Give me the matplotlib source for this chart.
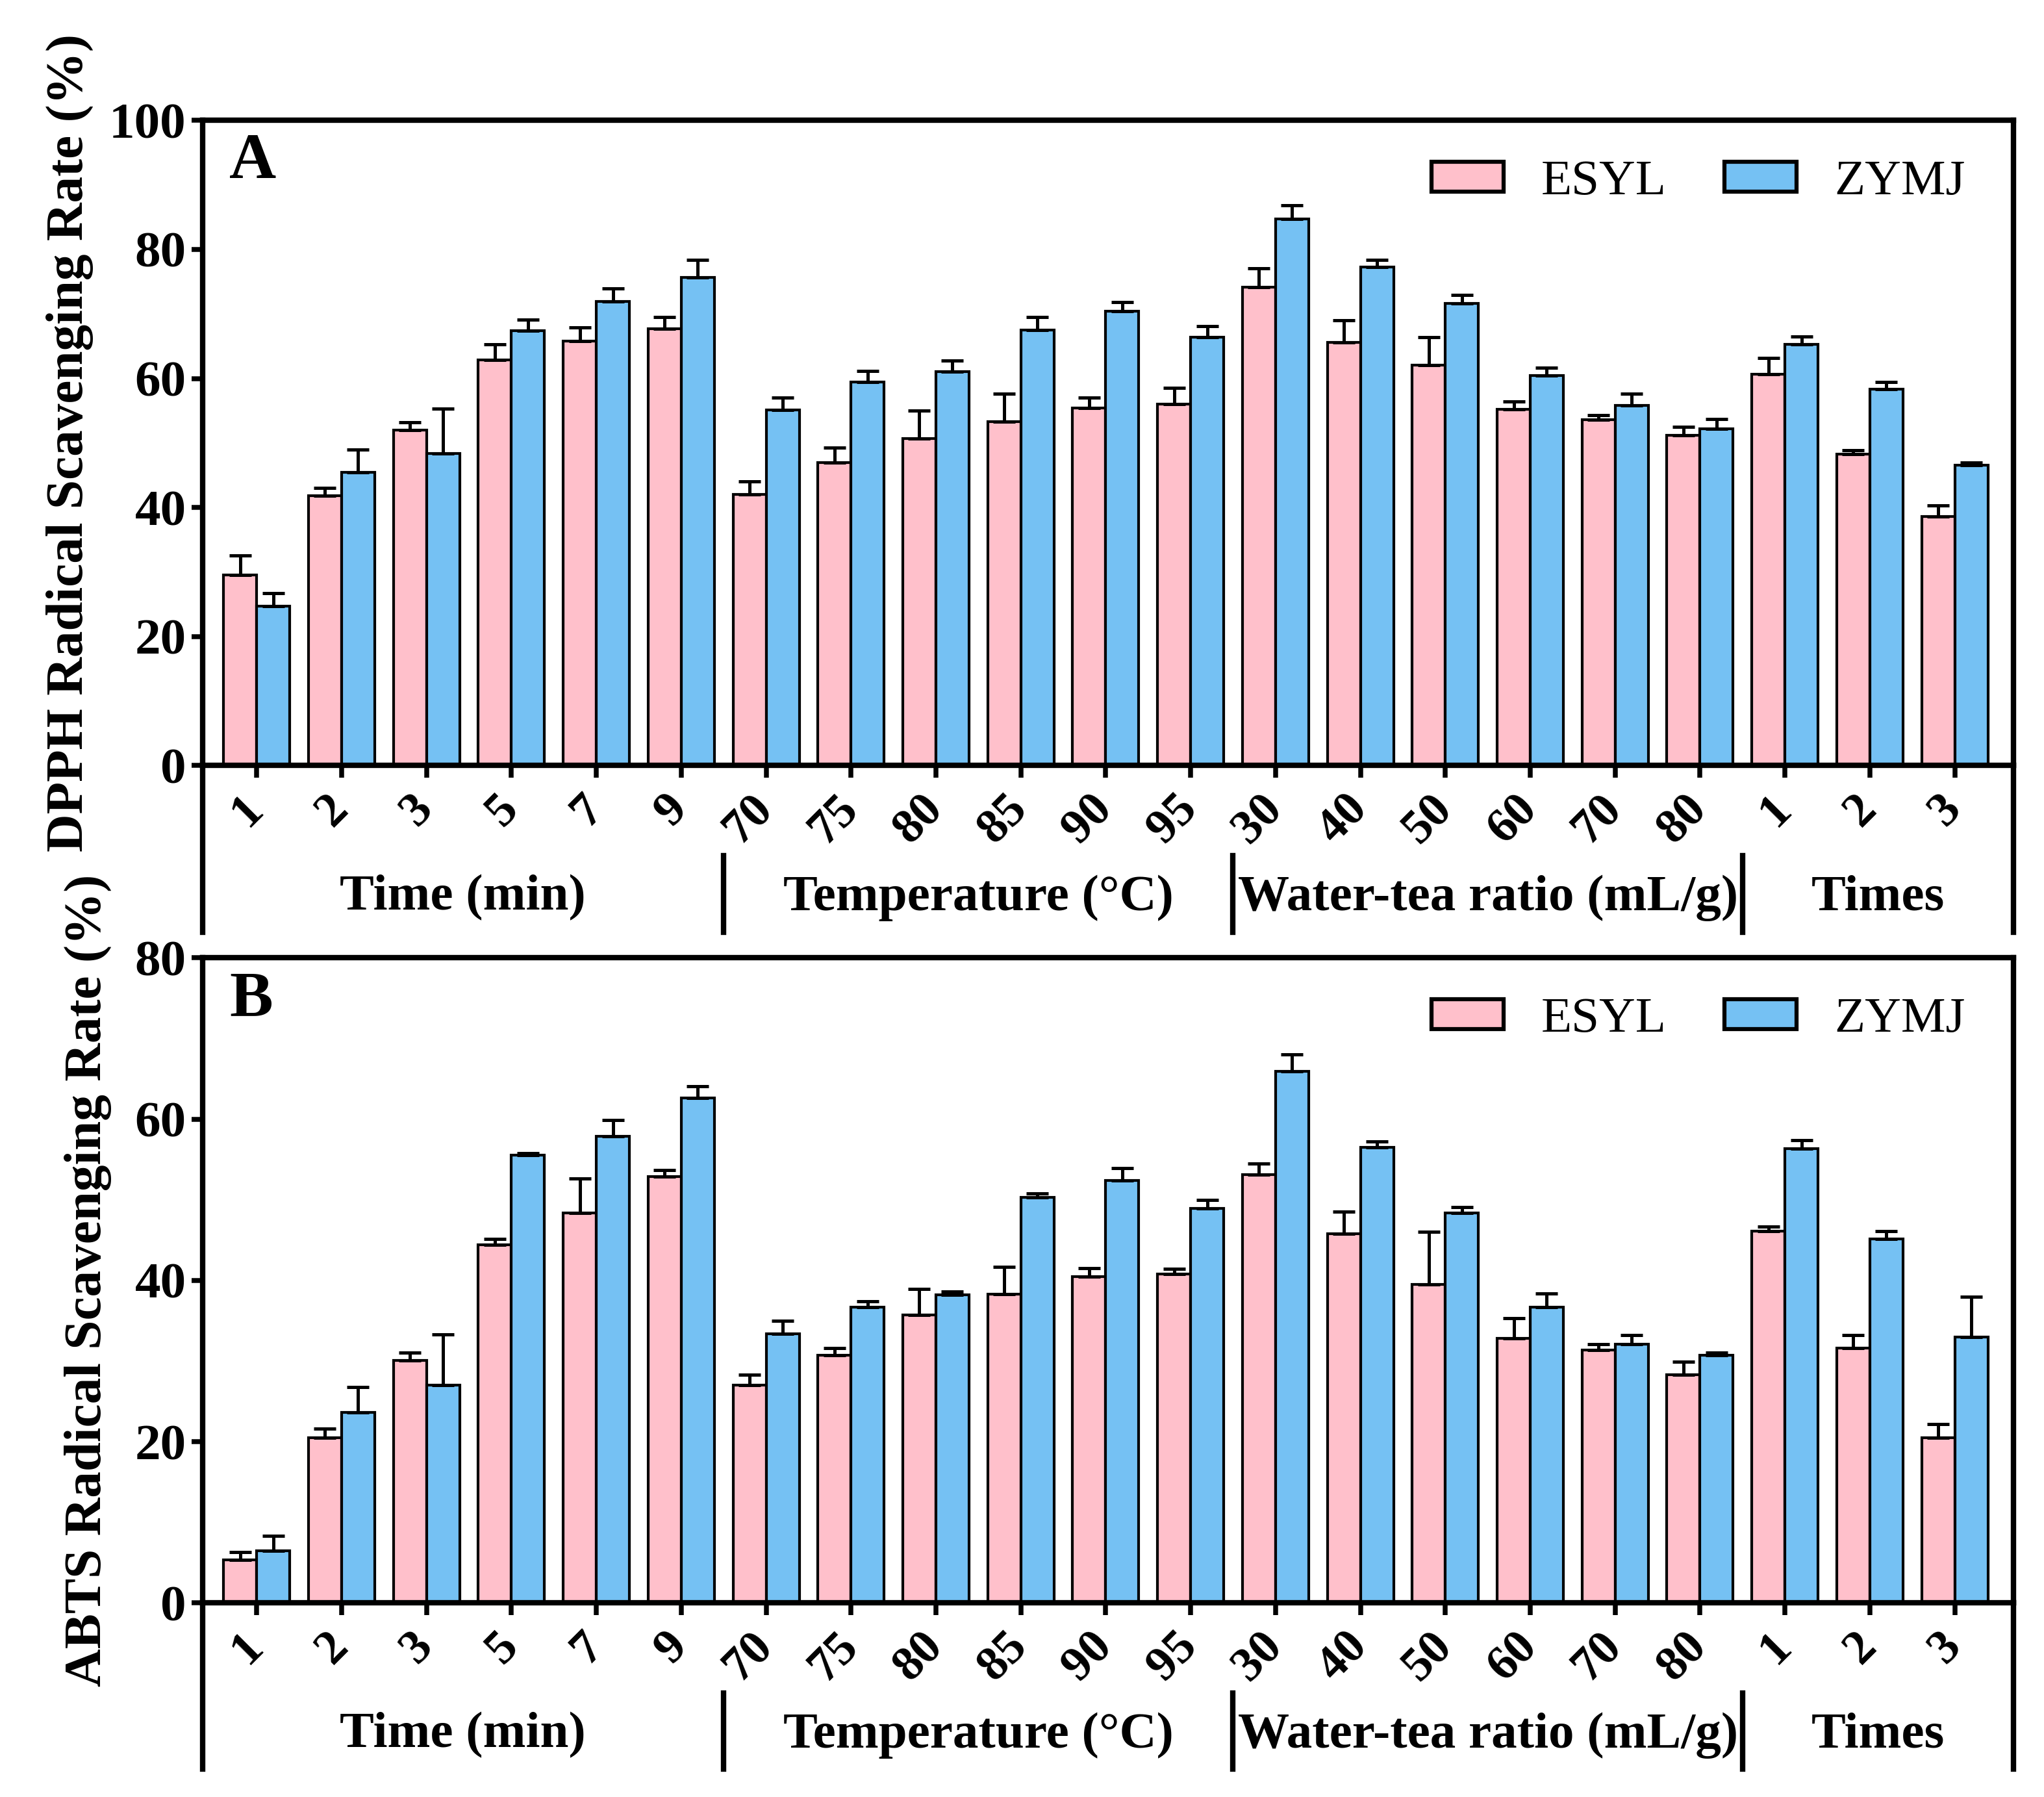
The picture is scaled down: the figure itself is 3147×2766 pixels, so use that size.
import numpy as np
import matplotlib
matplotlib.use("Agg")
import matplotlib.pyplot as plt
import matplotlib.transforms as mtransforms

plt.rcParams['font.family'] = ['Liberation Serif', 'DejaVu Serif']

# category labels along the x axis
cats = ['1', '2', '3', '5', '7', '9',
        '70', '75', '80', '85', '90', '95',
        '30', '40', '50', '60', '70', '80',
        '1', '2', '3']
groups = ['Time (min)', 'Temperature (\u00b0C)', 'Water-tea ratio (mL/g)', 'Times']
group_sizes = [6, 6, 6, 3]

# panel A - DPPH
dpph_esyl = [29.5, 41.8, 52.0, 62.9, 65.8, 67.7,
             42.0, 47.0, 50.7, 53.3, 55.4, 56.0,
             74.2, 65.6, 62.1, 55.2, 53.6, 51.2,
             60.7, 48.3, 38.6]
dpph_esyl_err = [3.1, 1.2, 1.2, 2.4, 2.1, 1.8,
                 2.0, 2.3, 4.3, 4.3, 1.6, 2.5,
                 2.9, 3.4, 4.3, 1.2, 0.7, 1.3,
                 2.5, 0.6, 1.7]
dpph_zymj = [24.7, 45.4, 48.4, 67.4, 71.9, 75.7,
             55.1, 59.4, 61.1, 67.5, 70.4, 66.4,
             84.7, 77.3, 71.6, 60.5, 55.8, 52.2,
             65.3, 58.3, 46.6]
dpph_zymj_err = [2.0, 3.6, 6.9, 1.7, 2.1, 2.7,
                 1.9, 1.8, 1.7, 2.0, 1.4, 1.7,
                 2.1, 1.1, 1.3, 1.2, 1.8, 1.5,
                 1.2, 1.1, 0.4]

# panel B - ABTS
abts_esyl = [5.3, 20.5, 30.1, 44.4, 48.4, 52.9,
             27.0, 30.7, 35.7, 38.3, 40.5, 40.8,
             53.1, 45.8, 39.5, 32.8, 31.4, 28.3,
             46.1, 31.6, 20.5]
abts_esyl_err = [1.0, 1.1, 0.9, 0.7, 4.2, 0.8,
                 1.3, 0.9, 3.2, 3.4, 1.0, 0.6,
                 1.4, 2.7, 6.5, 2.5, 0.7, 1.6,
                 0.6, 1.6, 1.7]
abts_zymj = [6.5, 23.6, 27.0, 55.5, 57.9, 62.6,
             33.4, 36.7, 38.2, 50.3, 52.4, 48.9,
             65.9, 56.5, 48.4, 36.7, 32.1, 30.7,
             56.3, 45.1, 33.0]
abts_zymj_err = [1.8, 3.2, 6.3, 0.3, 2.0, 1.5,
                 1.6, 0.7, 0.4, 0.5, 1.5, 1.1,
                 2.1, 0.7, 0.7, 1.7, 1.1, 0.3,
                 1.1, 1.0, 5.0]

pink = '#FFC0CB'
blue = '#75C1F3'

fig = plt.figure(figsize=(10.49, 9.22), dpi=300)
axA = fig.add_axes([0.099, 0.574, 0.886, 0.359])
axB = fig.add_axes([0.099, 0.108, 0.886, 0.359])

x = np.arange(len(cats))
w = 0.39


def draw_panel(ax, esyl, esyl_err, zymj, zymj_err, ymax, ylabel, letter, labx):
    z1 = np.zeros(len(esyl))
    ax.bar(x - w / 2, esyl, w, color=pink, edgecolor='black', linewidth=1.0,
           yerr=[z1, esyl_err], capsize=4,
           error_kw=dict(elinewidth=1.2, capthick=1.2, ecolor='black'),
           label='ESYL', zorder=2)
    ax.bar(x + w / 2, zymj, w, color=blue, edgecolor='black', linewidth=1.0,
           yerr=[z1, zymj_err], capsize=4,
           error_kw=dict(elinewidth=1.2, capthick=1.2, ecolor='black'),
           label='ZYMJ', zorder=2)
    ax.set_xlim(-0.64, len(cats) - 1 + 0.69)
    ax.set_ylim(0, ymax)
    ax.set_yticks(np.arange(0, ymax + 1, 20))
    ax.set_xticks(x)
    ax.set_xticklabels(cats, rotation=45, ha='right', va='center',
                       rotation_mode='anchor')
    for s in ax.spines.values():
        s.set_linewidth(2.0)
    ax.tick_params(axis='x', direction='out', length=4.5, width=1.8, pad=9,
                   labelsize=18)
    ax.tick_params(axis='y', direction='out', length=4, width=1.8, pad=2,
                   labelsize=19)
    for lab in ax.get_xticklabels() + ax.get_yticklabels():
        lab.set_fontweight('bold')
    ax.set_ylabel(ylabel, fontsize=19.5, fontweight='bold')
    ax.yaxis.set_label_coords(labx, 0.5)
    ax.text(0.015, 0.935, letter, transform=ax.transAxes, fontsize=24,
            fontweight='bold', ha='left', va='center')
    leg = ax.legend(loc='upper right', ncol=2, frameon=False, fontsize=18.5,
                    handlelength=1.45, handleheight=0.55, handletextpad=0.75,
                    columnspacing=1.15, bbox_to_anchor=(0.99, 0.985),
                    borderaxespad=0.2)
    for p in leg.get_patches():
        p.set_linewidth(1.5)

    # group brackets below the axis
    trans = mtransforms.blended_transform_factory(ax.transData, ax.transAxes)
    x0, x1 = ax.get_xlim()
    ax.plot([x0, x0], [0, -0.258], color='black', lw=2.0, transform=trans,
            clip_on=False)
    ax.plot([x1, x1], [0, -0.258], color='black', lw=2.0, transform=trans,
            clip_on=False)
    start = 0
    edges = []
    for n in group_sizes:
        edges.append((start, start + n - 1))
        start += n
    for i, (a, b) in enumerate(edges):
        if i > 0:
            sep = a - 0.5
            ax.plot([sep, sep], [-0.14, -0.258], color='black', lw=2.0,
                    transform=trans, clip_on=False)
        left = x0 if i == 0 else a - 0.5
        right = x1 if i == len(edges) - 1 else b + 0.5
        ax.text((left + right) / 2, -0.205, groups[i], transform=trans,
                fontsize=19, fontweight='bold', ha='center', va='center')


draw_panel(axA, dpph_esyl, dpph_esyl_err, dpph_zymj, dpph_zymj_err, 100,
           'DPPH Radical Scavenging Rate (%)', 'A', -0.06)
draw_panel(axB, abts_esyl, abts_esyl_err, abts_zymj, abts_zymj_err, 80,
           'ABTS Radical Scavenging Rate (%)', 'B', -0.05)

fig.savefig('out.png', dpi=300)
